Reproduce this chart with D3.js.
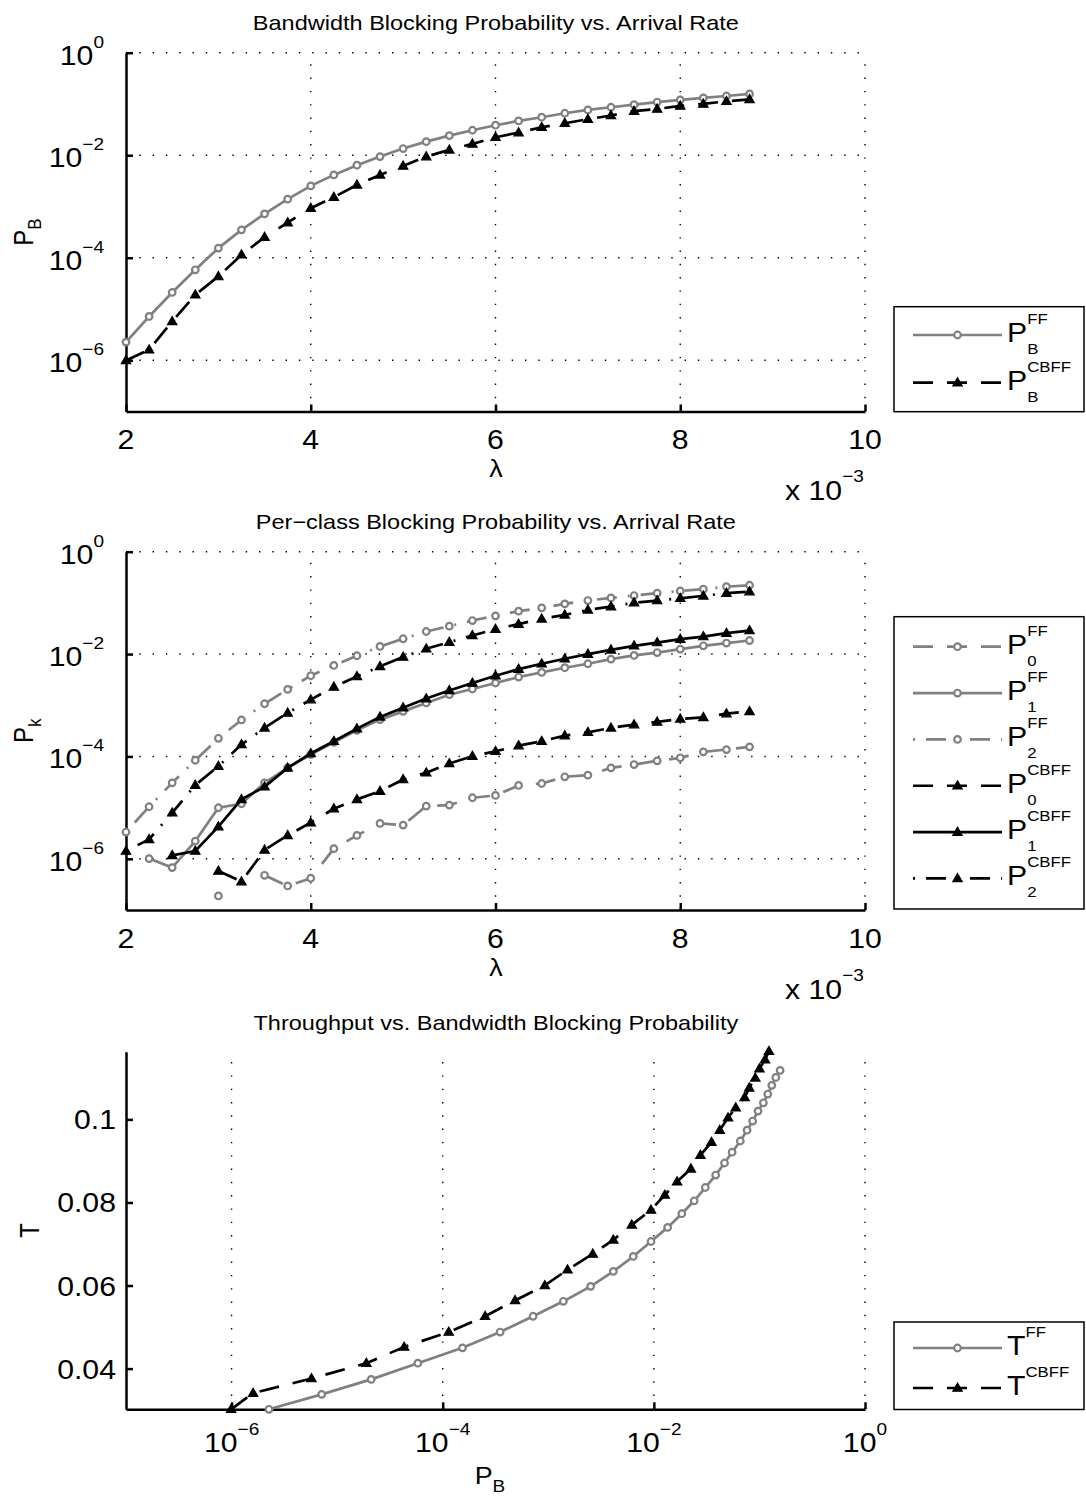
<!DOCTYPE html>
<html>
<head>
<meta charset="utf-8">
<script src="https://cdn.jsdelivr.net/npm/d3@7"></script>
<style>
body { margin: 0; background: #fff; }
text { font-family: "Liberation Sans", Arial, Helvetica, sans-serif; fill: #000; }
</style>
</head>
<body>
<svg id="fig" width="1086" height="1503"></svg>
<script>
// arrival rate, in units of 10^-3
const lambda = [2, 2.25, 2.5, 2.75, 3, 3.25, 3.5, 3.75, 4, 4.25, 4.5, 4.75, 5, 5.25,
    5.5, 5.75, 6, 6.25, 6.5, 6.75, 7, 7.25, 7.5, 7.75, 8, 8.25, 8.5, 8.75]

// bandwidth blocking probability
const pbFF = [2.26e-6, 7.14e-6, 2.10e-5, 5.81e-5, 1.54e-4, 3.50e-4, 7.18e-4, 1.39e-3, 2.52e-3, 4.13e-3,
    6.38e-3, 9.40e-3, 1.35e-2, 1.84e-2, 2.41e-2, 3.07e-2, 3.85e-2, 4.67e-2, 5.51e-2, 6.59e-2,
    7.64e-2, 8.63e-2, 9.70e-2, 0.109, 0.120, 0.131, 0.143, 0.157]
const pbCBFF = [9.9e-7, 1.60e-6, 5.71e-6, 1.89e-5, 4.31e-5, 1.14e-4, 2.52e-4, 4.85e-4, 9.27e-4, 1.52e-3,
    2.64e-3, 4.13e-3, 6.18e-3, 9.40e-3, 1.27e-2, 1.66e-2, 2.24e-2, 2.76e-2, 3.51e-2, 4.21e-2,
    5.04e-2, 5.96e-2, 7.24e-2, 8.00e-2, 9.14e-2, 0.100, 0.113, 0.123]

// per-class blocking probability (null = nothing plotted)
const p0FF = [null, null, null, null, 1.88e-7, null, 4.76e-7, 2.95e-7, 4.17e-7, 1.58e-6,
    2.87e-6, 4.92e-6, 4.56e-6, 1.07e-5, 1.12e-5, 1.56e-5, 1.73e-5, 2.71e-5, 2.96e-5, 4.00e-5,
    4.31e-5, 5.98e-5, 6.95e-5, 8.20e-5, 9.40e-5, 1.23e-4, 1.36e-4, 1.54e-4]
const p1FF = [null, 1.01e-6, 6.73e-7, 2.22e-6, 9.95e-6, 1.19e-5, 3.05e-5, 5.98e-5, 1.09e-4, 1.89e-4,
    3.24e-4, 5.24e-4, 7.60e-4, 1.11e-3, 1.61e-3, 2.08e-3, 2.72e-3, 3.56e-3, 4.38e-3, 5.41e-3,
    6.47e-3, 7.98e-3, 9.40e-3, 1.07e-2, 1.25e-2, 1.45e-2, 1.64e-2, 1.84e-2]
const p2FF = [3.33e-6, 1.04e-5, 3.05e-5, 8.43e-5, 2.26e-4, 5.16e-4, 1.07e-3, 2.04e-3, 3.78e-3, 6.0e-3,
    9.27e-3, 1.41e-2, 1.99e-2, 2.76e-2, 3.51e-2, 4.52e-2, 5.58e-2, 6.89e-2, 8.0e-2, 9.57e-2,
    0.111, 0.125, 0.139, 0.155, 0.171, 0.185, 0.208, 0.221]
const p0CBFF = [null, null, null, null, 5.78e-7, 3.59e-7, 1.49e-6, 2.87e-6, 5.08e-6, 9.53e-6,
    1.45e-5, 2.10e-5, 3.55e-5, 4.79e-5, 7.28e-5, 1.01e-4, 1.26e-4, 1.63e-4, 1.98e-4, 2.55e-4,
    2.96e-4, 3.61e-4, 4.19e-4, 4.72e-4, 5.41e-4, 5.81e-4, 6.85e-4, 7.60e-4]
const p1CBFF = [null, null, 1.17e-6, 1.42e-6, 4.24e-6, 1.45e-5, 2.55e-5, 5.98e-5, 1.14e-4, 1.98e-4,
    3.50e-4, 5.92e-4, 8.97e-4, 1.35e-3, 1.95e-3, 2.72e-3, 3.78e-3, 5.09e-3, 6.47e-3, 8.09e-3,
    1.0e-2, 1.21e-2, 1.45e-2, 1.68e-2, 1.96e-2, 2.20e-2, 2.56e-2, 2.88e-2]
const p2CBFF = [1.42e-6, 2.40e-6, 7.94e-6, 2.75e-5, 6.44e-5, 1.71e-4, 3.61e-4, 7.08e-4, 1.29e-3, 2.28e-3,
    3.66e-3, 5.73e-3, 8.75e-3, 1.27e-2, 1.71e-2, 2.31e-2, 3.07e-2, 3.85e-2, 4.88e-2, 5.83e-2,
    7.31e-2, 8.47e-2, 0.101, 0.111, 0.123, 0.137, 0.155, 0.166]

// throughput
const tFF = [0.0302, 0.0338, 0.0374, 0.0413, 0.0450, 0.0488, 0.0526, 0.0562, 0.0598, 0.0634,
    0.0670, 0.0706, 0.0740, 0.0773, 0.0804, 0.0836, 0.0866, 0.0895, 0.0921, 0.0948,
    0.0974, 0.0996, 0.1020, 0.1040, 0.1061, 0.1082, 0.1101, 0.1118]
const tCBFF = [0.0302, 0.0341, 0.0376, 0.0413, 0.0452, 0.0488, 0.0526, 0.0564, 0.0600, 0.0638,
    0.0676, 0.0710, 0.0746, 0.0782, 0.0818, 0.0850, 0.0881, 0.0914, 0.0945, 0.0974,
    0.1004, 0.1028, 0.1053, 0.1076, 0.1100, 0.1122, 0.1144, 0.1164]

// ticks
const lambdaTicks = [2, 4, 6, 8, 10]
const probTicks = [1e-6, 1e-4, 1e-2, 1]
const probTickExp = ["\u22126", "\u22124", "\u22122", "0"]
const tTicks = [0.04, 0.06, 0.08, 0.1]
const tTickLabels = ["0.04", "0.06", "0.08", "0.1"]

const GRAY = "#808080"
const SX = 1.12   // the reference text is a bit wider than Helvetica
const DASH = "20,14"
const DASHDOT = "2,11,20,11"

const svg = d3.select("#fig")
const X0 = 126, X1 = 865

// text with optional superscript / subscript stacked after the base
function tex(parent, x, y, base, sup, sub, o) {
    o = Object.assign({ size: 27, small: 17, rise: 17, drop: 17, anchor: "start", rotate: false }, o)
    const g = parent.append("g")
    const t0 = g.append("text").attr("font-size", o.size).text(base)
    const w = t0.node().getComputedTextLength()
    let extra = 0
    if (sup) {
        const t = g.append("text").attr("x", w).attr("y", -o.rise).attr("font-size", o.small).text(sup)
        extra = Math.max(extra, t.node().getComputedTextLength())
    }
    if (sub) {
        const t = g.append("text").attr("x", w).attr("y", o.drop).attr("font-size", o.small).text(sub)
        extra = Math.max(extra, t.node().getComputedTextLength())
    }
    const total = w + extra
    const shift = o.anchor == "middle" ? -total / 2 : o.anchor == "end" ? -total : 0
    g.selectAll("text").attr("transform", `translate(${shift},0)`)
    g.attr("transform", `translate(${x},${y}) scale(${SX},1)` + (o.rotate ? " rotate(-90)" : ""))
    return g
}

function markers(g, pts, kind, color) {
    if (kind == "o") {
        g.append("g").selectAll("circle").data(pts).join("circle")
            .attr("cx", d => d[0]).attr("cy", d => d[1]).attr("r", 3.3)
            .attr("fill", "#fff").attr("stroke", color).attr("stroke-width", 2.2)
    } else {
        g.append("g").selectAll("path").data(pts).join("path")
            .attr("d", d3.symbol(d3.symbolTriangle, 38))
            .attr("transform", d => `translate(${d[0]},${d[1] + 0.5})`)
            .attr("fill", color).attr("stroke", color).attr("stroke-width", 1.2)
    }
}

function series(g, xs, ys, x, y, s) {
    const pts = xs.map((v, i) => [v, ys[i]])
    const line = d3.line()
        .defined(d => d[0] != null && d[1] != null)
        .x(d => x(d[0])).y(d => y(d[1]))
    g.append("path").datum(pts)
        .attr("d", line)
        .attr("fill", "none")
        .attr("stroke", s.color)
        .attr("stroke-width", 2.7)
        .attr("stroke-dasharray", s.dash)
    markers(g, pts.filter(d => d[0] != null && d[1] != null).map(d => [x(d[0]), y(d[1])]), s.marker, s.color)
}

function gridLines(g, xs, ys, top, bottom) {
    const gg = g.append("g").attr("stroke", "#000").attr("stroke-width", 1.4)
        .attr("stroke-dasharray", "1.4,11.9")
    xs.forEach(v => gg.append("line").attr("x1", v).attr("x2", v).attr("y1", bottom).attr("y2", top))
    ys.forEach(v => gg.append("line").attr("x1", X0).attr("x2", X1).attr("y1", v).attr("y2", v))
}

function axesLines(g, x, y, xt, yt, bottom) {
    g.append("g").attr("transform", `translate(0,${bottom})`)
        .call(d3.axisBottom(x).tickValues(xt).tickSizeInner(-7).tickSizeOuter(0).tickFormat(""))
        .call(a => a.selectAll("path,line").attr("stroke", "#000").attr("stroke-width", 2.5))
    g.append("g").attr("transform", `translate(${X0},0)`)
        .call(d3.axisLeft(y).tickValues(yt).tickSizeInner(-7).tickSizeOuter(0).tickFormat(""))
        .call(a => a.selectAll("path,line").attr("stroke", "#000").attr("stroke-width", 2.5))
}

function legendEntry(g, e, yy) {
    g.append("line").attr("x1", 913).attr("x2", 1002).attr("y1", yy).attr("y2", yy)
        .attr("stroke", e.color).attr("stroke-width", 2.7).attr("stroke-dasharray", e.dash)
    markers(g, [[957.5, yy]], e.marker, e.color)
    tex(g, 1007, yy + 7, e.base, e.sup, e.sub, { size: 27, small: 15, rise: 18, drop: 12 })
}

function legend(g, entries, top, bottom, first, step) {
    g.append("rect").attr("x", 894).attr("y", top).attr("width", 190).attr("height", bottom - top)
        .attr("fill", "#fff").attr("stroke", "#000").attr("stroke-width", 1.5)
    entries.forEach((e, i) => legendEntry(g, e, first + i * step))
}

// ---------- panel 1 & 2: probability vs arrival rate ----------
function lambdaPanel(top, bottom, title, ylab, list, leg) {
    const g = svg.append("g")
    const x = d3.scaleLinear().domain([2, 10]).range([X0, X1])
    const y = d3.scaleLog().domain([1e-7, 1]).range([bottom, top])

    gridLines(g, lambdaTicks.slice(1).map(x), probTicks.map(y), top, bottom)
    axesLines(g, x, y, lambdaTicks, probTicks, bottom)

    list.forEach(s => series(g, lambda, s.values, x, y, s))

    lambdaTicks.forEach(t => tex(g, x(t), bottom + 37.5, String(t), null, null, { anchor: "middle" }))
    probTicks.forEach((t, i) => tex(g, 104, y(t) + 12, "10", probTickExp[i], null, { anchor: "end" }))

    tex(g, 496, top - 22.7, title, null, null, { size: 21, anchor: "middle" })
    tex(g, 496, bottom + 65.5, "\u03bb", null, null, { size: 24, anchor: "middle" })
    tex(g, 785, bottom + 88.5, "x 10", "\u22123", null, { size: 27, rise: 18 })
    tex(g, 33, (top + bottom) / 2, "P", null, ylab, { size: 24, small: 17, drop: 7.5, anchor: "middle", rotate: true })

    legend(g, list, leg.top, leg.bottom, leg.first, leg.step)
}

const S = (values, color, dash, marker, base, sub, sup) => ({ values, color, dash, marker, base, sub, sup })

lambdaPanel(52.7, 411.5, "Bandwidth Blocking Probability vs. Arrival Rate", "B", [
    S(pbFF, GRAY, null, "o", "P", "B", "FF"),
    S(pbCBFF, "#000", DASH, "^", "P", "B", "CBFF")
], { top: 306.7, bottom: 411.7, first: 335, step: 47.7 })

lambdaPanel(551.7, 910, "Per\u2212class Blocking Probability vs. Arrival Rate", "k", [
    S(p0FF, GRAY, DASH, "o", "P", "0", "FF"),
    S(p1FF, GRAY, null, "o", "P", "1", "FF"),
    S(p2FF, GRAY, DASHDOT, "o", "P", "2", "FF"),
    S(p0CBFF, "#000", DASH, "^", "P", "0", "CBFF"),
    S(p1CBFF, "#000", null, "^", "P", "1", "CBFF"),
    S(p2CBFF, "#000", DASHDOT, "^", "P", "2", "CBFF")
], { top: 616.7, bottom: 909, first: 646.7, step: 46.35 })

// ---------- panel 3: throughput vs blocking ----------
{
    const top = 1051.7, bottom = 1409.3
    const g = svg.append("g")
    const x = d3.scaleLog().domain([1e-7, 1]).range([X0, X1])
    const y = d3.scaleLinear().domain([0.0302, 0.1163]).range([bottom, top])

    gridLines(g, probTicks.map(x), [], top, bottom)
    axesLines(g, x, y, probTicks, tTicks, bottom)

    series(g, pbFF, tFF, x, y, { color: GRAY, dash: null, marker: "o" })
    series(g, pbCBFF, tCBFF, x, y, { color: "#000", dash: DASH, marker: "^" })

    probTicks.forEach((t, i) => tex(g, x(t), bottom + 43, "10", probTickExp[i], null, { anchor: "middle" }))
    tTicks.forEach((t, i) => tex(g, 116, y(t) + 10, tTickLabels[i], null, null, { anchor: "end" }))

    tex(g, 496, top - 22, "Throughput vs. Bandwidth Blocking Probability", null, null, { size: 21, anchor: "middle" })
    tex(g, 490, 1484, "P", null, "B", { size: 24, small: 17, drop: 8, anchor: "middle" })
    tex(g, 39, (top + bottom) / 2, "T", null, null, { size: 24, anchor: "middle", rotate: true })

    legend(g, [
        { color: GRAY, dash: null, marker: "o", base: "T", sup: "FF" },
        { color: "#000", dash: DASH, marker: "^", base: "T", sup: "CBFF" }
    ], 1322, 1409.5, 1348, 40)
}
</script>
</body>
</html>
